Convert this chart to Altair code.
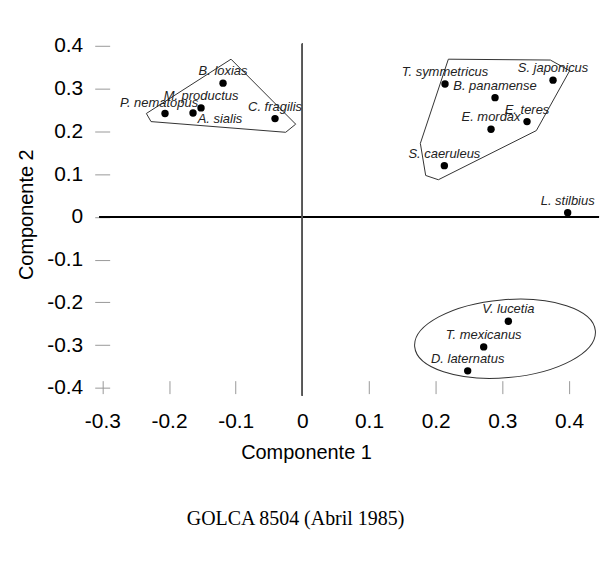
import altair as alt
import pandas as pd

# ---- data ----
species = ["B. loxias", "M. productus", "P. nematopus", "A. sialis", "C. fragilis",
           "T. symmetricus", "S. japonicus", "B. panamense", "E. teres", "E. mordax",
           "S. caeruleus", "L. stilbius", "V. lucetia", "T. mexicanus", "D. laternatus"]
comp1 = [-0.119, -0.152, -0.206, -0.164, -0.041,
         0.214, 0.376, 0.289, 0.337, 0.283,
         0.213, 0.398, 0.309, 0.272, 0.248]
comp2 = [0.313, 0.255, 0.242, 0.243, 0.230,
         0.311, 0.320, 0.279, 0.223, 0.205,
         0.120, 0.010, -0.244, -0.304, -0.360]

hull_a_x = [-0.107, -0.010, -0.025, -0.227, -0.234]
hull_a_y = [0.369, 0.217, 0.198, 0.223, 0.242]
hull_b_x = [0.219, 0.372, 0.401, 0.351, 0.204, 0.185, 0.177]
hull_b_y = [0.369, 0.367, 0.342, 0.202, 0.087, 0.097, 0.172]

ellipse_x = [0.304]
ellipse_y = [-0.285]

x_ticks = [-0.3, -0.25, -0.2, -0.15, -0.1, -0.05, 0, 0.05, 0.1, 0.15, 0.2, 0.25, 0.3, 0.35, 0.4]
y_ticks = [-0.4, -0.35, -0.3, -0.25, -0.2, -0.15, -0.1, -0.05, 0, 0.05, 0.1, 0.15, 0.2, 0.25, 0.3, 0.35, 0.4]

caption = "GOLCA 8504 (Abril 1985)"

# ---- tables ----
pts = pd.DataFrame({"sp": species, "c1": comp1, "c2": comp2})
rows = []
for g, xs, ys in (("a", hull_a_x, hull_a_y), ("b", hull_b_x, hull_b_y)):
    for i, (xv, yv) in enumerate(list(zip(xs, ys)) + [(xs[0], ys[0])]):
        rows.append({"g": g, "o": i, "c1": xv, "c2": yv})
hulls = pd.DataFrame(rows)
ell = pd.DataFrame({"c1": ellipse_x, "c2": ellipse_y})

FONT = "Liberation Sans"
x_scale = alt.Scale(domain=[-0.304, 0.445], nice=False, zero=False)
y_scale = alt.Scale(domain=[-0.418, 0.405], nice=False, zero=False)

minor = "abs(datum.value*10 - round(datum.value*10)) > 0.01"
lab = (f"{minor} ? '' : (datum.value < 0 ? '-' + format(-datum.value, '.1~f') "
       f": format(datum.value, '.1~f'))")

x_axis = alt.Axis(values=x_ticks, labelExpr=lab, domain=False, grid=False, offset=-15,
                  tickSize={"condition": {"test": minor, "value": 9}, "value": 13},
                  tickColor="#999999", tickWidth=1,
                  labelFont=FONT, labelFontSize=21, labelColor="black", labelPadding=17,
                  labelFlush=False, labelOverlap=False, labelBound=False,
                  title="Componente 1", titleFont=FONT, titleFontSize=20,
                  titleFontWeight="normal", titleColor="black",
                  titleX=207, titleY=78, titleAlign="center", titleBaseline="alphabetic")
y_axis = alt.Axis(values=y_ticks, labelExpr=lab, domain=False, grid=False, offset=-10,
                  tickSize={"condition": {"test": minor, "value": 9}, "value": 15},
                  tickColor="#999999", tickWidth=1,
                  labelFont=FONT, labelFontSize=21, labelColor="black", labelPadding=12,
                  labelFlush=False, labelOverlap=False, labelBound=False,
                  title="Componente 2", titleFont=FONT, titleFontSize=20,
                  titleFontWeight="normal", titleColor="black",
                  titleX=-77, titleY=171, titleAlign="center", titleBaseline="alphabetic")

X = alt.X("c1:Q", scale=x_scale, axis=x_axis)
Y = alt.Y("c2:Q", scale=y_scale, axis=y_axis)
Xp = alt.X("c1:Q", scale=x_scale)
Yp = alt.Y("c2:Q", scale=y_scale)

points = alt.Chart(pts).mark_circle(size=55, color="black", opacity=1).encode(x=X, y=Y)

hline = alt.Chart(pts).mark_rule(color="black", strokeWidth=1).encode(y=alt.datum(0))
vline = alt.Chart(pts).mark_rule(color="#555555", strokeWidth=1).encode(x=alt.datum(0))

hull_lines = alt.Chart(hulls).mark_line(color="#333333", strokeWidth=1).encode(
    x=Xp, y=Yp, detail="g:N", order="o:Q")

ellipse = alt.Chart(ell).mark_point(
    shape="M -1 0 A 1 0.43 0 1 0 1 0 A 1 0.43 0 1 0 -1 0 Z",
    size=33124, filled=False, stroke="#333333", strokeWidth=1, opacity=1, angle=355
).encode(x=Xp, y=Yp)

text_style = dict(font=FONT, fontSize=13, fontStyle="italic", color="#222222",
                  align="center", baseline="alphabetic")
labels_main = alt.Chart(pts).transform_filter(
    "datum.sp != 'P. nematopus' && datum.sp != 'A. sialis'"
).mark_text(dy=-8, **text_style).encode(x=Xp, y=Yp, text="sp:N")
labels_p = alt.Chart(pts).transform_filter("datum.sp == 'P. nematopus'").mark_text(
    dx=-6, dy=-7, **text_style).encode(x=Xp, y=Yp, text="sp:N")
labels_a = alt.Chart(pts).transform_filter("datum.sp == 'A. sialis'").mark_text(
    dx=27, dy=10, **text_style).encode(x=Xp, y=Yp, text="sp:N")

chart = alt.layer(points, hline, vline, hull_lines, ellipse,
                  labels_main, labels_p, labels_a).properties(
    width=501, height=353,
    autosize=alt.AutoSizeParams(type="none"),
    padding={"left": 92, "top": 35, "right": 5, "bottom": 160},
    title=alt.TitleParams(caption, orient="bottom", anchor="middle", frame="group",
                          dx=-54, offset=47, font="Liberation Serif", fontSize=20,
                          fontWeight="normal", color="black"),
).configure_view(stroke=None)

chart.save("out.html", embed_options={"renderer": "svg", "actions": False})
